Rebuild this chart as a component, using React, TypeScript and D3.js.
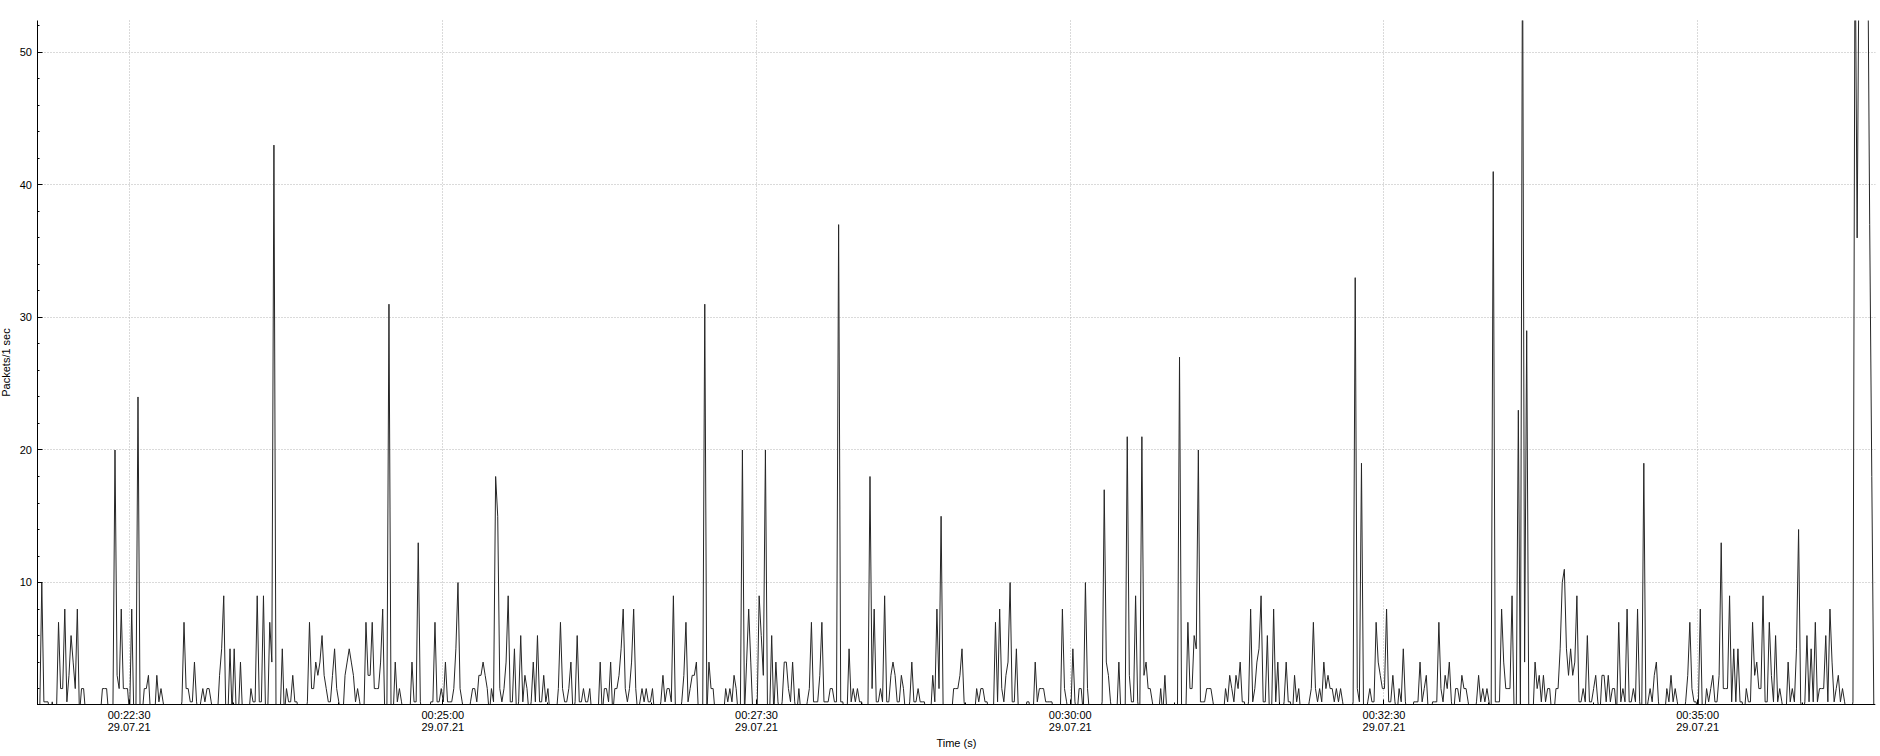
import React from "react";
import * as d3 from "d3";

// Packets per 1 s interval (values above 52.4 are clipped at the top)
const packetsPart1 = [
  0, 10, 1, 1, 1, 0, 1, 0, 0, 7,
  2, 2, 8, 1, 3, 6, 4, 2, 8, 0,
  2, 2, 0, 0, 0, 0, 0, 0, 0, 0,
  2, 2, 2, 0, 0, 0, 20, 3, 2, 8,
  2, 2, 2, 0, 8, 0, 0, 24, 0, 0,
  2, 2, 3, 0, 0, 0, 3, 1, 2, 1,
  0, 0, 0, 0, 0, 0, 0, 0, 1, 7,
  2, 2, 1, 1, 4, 1, 0, 1, 2, 1,
  2, 2, 1, 0, 0, 0, 3, 5, 9, 0,
  0, 5, 0, 5, 0, 0, 4, 0, 0, 0,
  0, 2, 1, 1, 9, 1, 1, 9, 0, 0,
  7, 4, 43, 0, 0, 0, 5, 0, 2, 1,
  1, 3, 1, 1, 0, 0, 0, 0, 1, 7,
  2, 2, 4, 3, 4, 6, 3, 2, 1, 1,
  3, 5, 2, 1, 0, 0, 3, 4, 5, 4,
  3, 1, 2, 1, 0, 0, 7, 3, 3, 7,
  2, 2, 2, 4, 8, 0, 0, 31, 0, 0,
  4, 1, 2, 1, 0, 0, 0, 0, 4, 1,
  1, 13, 1, 0, 0, 0, 0, 1, 1, 7,
  1, 1, 2, 1, 4, 1, 1, 1, 2, 5,
  10, 2, 1, 0, 0, 0, 1, 2, 2, 1,
  3, 3, 4, 3, 2, 0, 2, 1, 18, 15,
];
const packetsPart2 = [
  2, 1, 2, 4, 9, 1, 1, 5, 0, 1,
  6, 1, 3, 2, 0, 1, 4, 1, 6, 1,
  1, 3, 1, 2, 0, 0, 0, 0, 2, 7,
  2, 1, 1, 2, 4, 0, 1, 6, 1, 1,
  2, 1, 1, 2, 0, 0, 0, 0, 4, 0,
  2, 2, 1, 4, 0, 2, 2, 3, 5, 8,
  2, 1, 2, 4, 8, 2, 0, 1, 2, 1,
  2, 1, 1, 2, 0, 0, 0, 1, 3, 1,
  2, 2, 1, 9, 0, 0, 0, 1, 3, 7,
  1, 2, 3, 3, 4, 0, 0, 0, 31, 0,
  4, 2, 2, 0, 0, 0, 0, 0, 2, 1,
  2, 1, 3, 2, 0, 0, 20, 0, 4, 8,
  4, 0, 0, 0, 9, 6, 3, 20, 0, 0,
  6, 0, 4, 1, 0, 1, 4, 4, 2, 1,
  4, 1, 0, 2, 0, 0, 0, 1, 2, 7,
  1, 1, 1, 3, 7, 1, 1, 1, 2, 2,
  1, 1, 37, 1, 1, 0, 0, 5, 1, 2,
  1, 2, 1, 1, 0, 0, 0, 18, 2, 8,
  1, 1, 2, 1, 9, 1, 1, 3, 4, 3,
  1, 1, 3, 2, 0, 0, 1, 4, 1, 1,
  2, 1, 1, 1, 0, 0, 0, 3, 1, 8,
  2, 15, 0, 0, 0, 0, 0, 2, 2, 2,
];
const packetsPart3 = [
  3, 5, 1, 0, 0, 0, 0, 0, 2, 1,
  2, 2, 1, 1, 0, 0, 0, 7, 1, 8,
  2, 1, 3, 4, 10, 1, 1, 5, 0, 0,
  0, 0, 1, 1, 0, 0, 4, 1, 2, 2,
  2, 1, 1, 1, 1, 0, 0, 0, 0, 8,
  2, 1, 0, 0, 5, 1, 0, 2, 2, 0,
  10, 2, 0, 0, 0, 0, 0, 0, 1, 17,
  4, 3, 1, 0, 0, 0, 4, 0, 0, 0,
  21, 3, 1, 1, 9, 1, 0, 21, 3, 4,
  2, 2, 1, 0, 0, 0, 2, 0, 3, 0,
  0, 0, 0, 0, 0, 27, 0, 0, 0, 7,
  2, 2, 6, 5, 20, 1, 1, 1, 2, 2,
  2, 1, 0, 0, 0, 0, 0, 2, 1, 3,
  2, 1, 3, 2, 4, 1, 1, 0, 1, 8,
  1, 2, 4, 5, 9, 1, 1, 6, 0, 0,
  8, 1, 4, 0, 0, 1, 4, 1, 1, 0,
  3, 1, 2, 0, 0, 0, 0, 1, 2, 7,
  2, 1, 2, 1, 4, 2, 3, 2, 2, 1,
  2, 1, 2, 1, 0, 0, 0, 0, 1, 33,
  2, 1, 19, 0, 0, 1, 2, 1, 1, 7,
  4, 3, 2, 2, 8, 1, 1, 3, 1, 0,
  2, 1, 5, 1, 0, 0, 0, 1, 1, 1,
];
const packetsPart4 = [
  4, 1, 2, 3, 0, 0, 1, 1, 1, 7,
  2, 1, 3, 2, 4, 1, 0, 2, 2, 1,
  3, 2, 2, 1, 0, 0, 0, 1, 3, 1,
  2, 1, 2, 1, 0, 41, 1, 1, 1, 8,
  4, 2, 2, 2, 9, 0, 0, 23, 0, 60,
  4, 29, 0, 0, 0, 4, 2, 3, 1, 3,
  1, 2, 2, 0, 0, 2, 2, 5, 10, 11,
  5, 3, 5, 3, 4, 9, 1, 1, 2, 1,
  6, 1, 1, 2, 3, 1, 0, 3, 3, 1,
  3, 1, 2, 2, 0, 7, 1, 2, 1, 8,
  1, 1, 2, 1, 8, 1, 0, 19, 0, 1,
  2, 1, 3, 4, 1, 0, 0, 0, 2, 1,
  3, 1, 2, 1, 0, 0, 0, 1, 3, 7,
  2, 1, 1, 0, 8, 0, 0, 2, 1, 2,
  3, 1, 1, 3, 13, 2, 2, 2, 9, 1,
  5, 1, 5, 1, 1, 0, 2, 1, 1, 7,
  3, 4, 2, 2, 9, 1, 1, 7, 3, 1,
  6, 1, 2, 1, 0, 0, 4, 1, 2, 1,
  5, 14, 1, 0, 1, 6, 1, 5, 1, 7,
  1, 2, 2, 2, 6, 1, 8, 4, 1, 2,
  3, 1, 2, 1, 0, 0, 0, 1, 60, 36,
  60, 60, 60, 60, 60, 37, 18, 0, 0,
];

const firstBinTime = "2021-07-29T00:21:47.250Z";
const intervalMs = 1000;
const axisStartTime = "2021-07-29T00:21:46.200Z";
const axisEndTime = "2021-07-29T00:36:24.930Z";
const xTickTimes = ["00:22:30", "00:25:00", "00:27:30", "00:30:00", "00:32:30", "00:35:00"];
const xTickDay = "2021-07-29";
const yTicks = [10, 20, 30, 40, 50];
const yDomain = [0.8, 52.4];
const xTitle = "Time (s)";
const yTitle = "Packets/1 sec";

const packets = [...packetsPart1, ...packetsPart2, ...packetsPart3, ...packetsPart4];

export default function App() {
  const W = 1880;
  const H = 756;
  const left = 37.5;
  const right = 1875.3;
  const top = 20.5;
  const bottom = 704.5;
  const font = "'Liberation Sans', Arial, sans-serif";

  const x = d3
    .scaleUtc()
    .domain([new Date(axisStartTime), new Date(axisEndTime)])
    .range([left, right]);
  const y = d3.scaleLinear().domain(yDomain).range([bottom, top]);

  const t0 = new Date(firstBinTime).getTime();
  const line = d3
    .line<number>()
    .x((_, i) => x(new Date(t0 + i * intervalMs)))
    .y((d) => y(d));

  const majorDates = xTickTimes.map((t) => new Date(`${xTickDay}T${t}Z`));
  const fmtDate = d3.utcFormat("%d.%m.%y");
  const fmtTime = d3.utcFormat("%H:%M:%S");
  const step = majorDates[1].getTime() - majorDates[0].getTime();
  const sub = step / 3;
  const [d0, d1] = x.domain().map((d) => d.getTime());
  const minorX: number[] = [];
  for (let t = majorDates[0].getTime() - step; t <= d1; t += sub) {
    if (t >= d0) minorX.push(x(new Date(t)));
  }
  const minorY: number[] = [];
  for (let v = 2; v <= yDomain[1]; v += 2) if (v % 10 !== 0 && v >= yDomain[0]) minorY.push(y(v));

  const crisp = (v: number) => Math.floor(v) + 0.5;

  return (
    <svg
      width={W}
      height={H}
      style={{ position: "absolute", left: 0, top: 0, background: "#fff" }}
      xmlns="http://www.w3.org/2000/svg"
    >
      <rect x={0} y={0} width={W} height={H} fill="#fff" />
      <defs>
        <clipPath id="plotClip">
          <rect x={left} y={top} width={right - left} height={bottom - top} />
        </clipPath>
      </defs>
      {/* grid */}
      <g stroke="rgb(180,180,180)" strokeWidth={1} strokeDasharray="1,2" fill="none">
        {yTicks.map((v) => (
          <line key={`gy${v}`} x1={left + 1} x2={right} y1={crisp(y(v))} y2={crisp(y(v))} />
        ))}
        {majorDates.map((d, i) => (
          <line key={`gx${i}`} x1={crisp(x(d))} x2={crisp(x(d))} y1={top} y2={bottom} />
        ))}
      </g>
      {/* data */}
      <g clipPath="url(#plotClip)">
        <path d={line(packets) || ""} fill="none" stroke="#262626" strokeWidth={1} strokeLinejoin="miter" />
      </g>
      {/* axes */}
      <g stroke="#000" strokeWidth={1} fill="none">
        <line x1={left} x2={left} y1={top} y2={bottom + 0.5} />
        <line x1={left} x2={right} y1={bottom} y2={bottom} />
        {yTicks.map((v) => (
          <line key={`ty${v}`} x1={left} x2={left + 5} y1={crisp(y(v))} y2={crisp(y(v))} />
        ))}
        {minorY.map((py, i) => (
          <line key={`my${i}`} x1={left} x2={left + 2} y1={crisp(py)} y2={crisp(py)} />
        ))}
        {majorDates.map((d, i) => (
          <line key={`tx${i}`} x1={crisp(x(d))} x2={crisp(x(d))} y1={bottom} y2={bottom - 5} />
        ))}
        {minorX.map((px, i) => (
          <line key={`mx${i}`} x1={crisp(px)} x2={crisp(px)} y1={bottom} y2={bottom - 2} />
        ))}
      </g>
      {/* tick labels */}
      <g fontFamily={font} fontSize={11} fill="#000">
        {yTicks.map((v) => (
          <text key={`ly${v}`} x={32} y={y(v)} dy="0.35em" textAnchor="end">
            {v}
          </text>
        ))}
        {majorDates.map((d, i) => (
          <g key={`lx${i}`}>
            <text x={x(d)} y={718.5} textAnchor="middle">
              {fmtTime(d)}
            </text>
            <text x={x(d)} y={731} textAnchor="middle">
              {fmtDate(d)}
            </text>
          </g>
        ))}
        <text x={(left + right) / 2} y={747} textAnchor="middle">
          {xTitle}
        </text>
        <text
          transform={`translate(10, ${(top + bottom) / 2}) rotate(-90)`}
          textAnchor="middle"
        >
          {yTitle}
        </text>
      </g>
    </svg>
  );
}
